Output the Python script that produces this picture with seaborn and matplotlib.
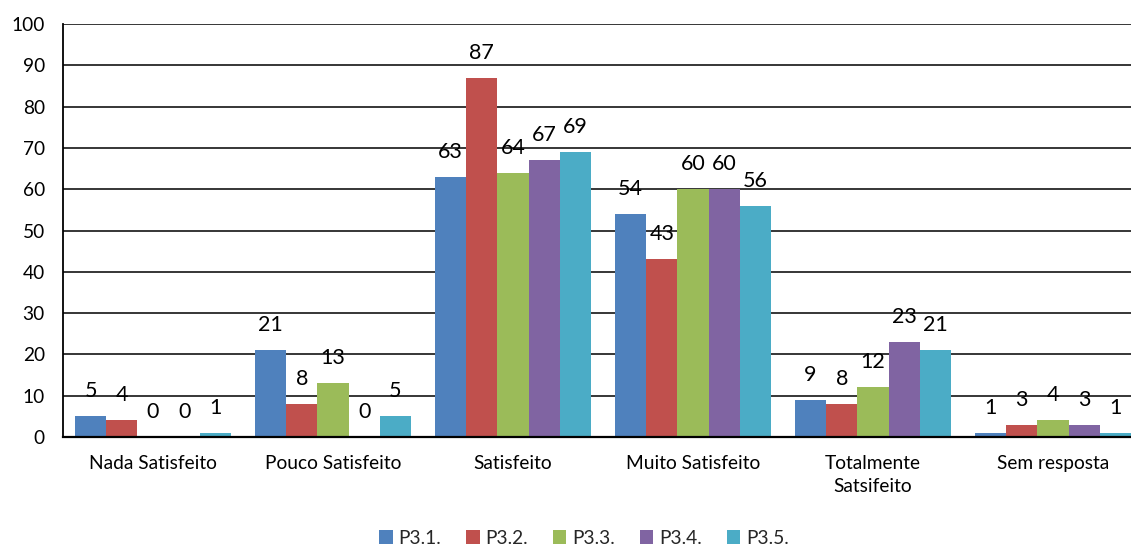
import matplotlib
matplotlib.use("Agg")
import matplotlib.pyplot as plt
import seaborn as sns
import pandas as pd

categories = ["Nada Satisfeito", "Pouco Satisfeito", "Satisfeito",
              "Muito Satisfeito", "Totalmente\nSatsifeito", "Sem resposta"]
series = ["P3.1.", "P3.2.", "P3.3.", "P3.4.", "P3.5."]
p31 = [5, 21, 63, 54, 9, 1]
p32 = [4, 8, 87, 43, 8, 3]
p33 = [0, 13, 64, 60, 12, 4]
p34 = [0, 0, 67, 60, 23, 3]
p35 = [1, 5, 69, 56, 21, 1]
colors = ["#4F81BD", "#C0504D", "#9BBB59", "#8064A2", "#4BACC6"]

values = [p31, p32, p33, p34, p35]
rows = []
for name, vals in zip(series, values):
    for cat, v in zip(categories, vals):
        rows.append({"categoria": cat, "serie": name, "valor": v})
df = pd.DataFrame(rows)

sns.set_theme(style="white")
plt.rcParams["font.family"] = ["Lato", "DejaVu Sans"]

fig = plt.figure(figsize=(11.31, 5.48), dpi=100)
ax = fig.add_axes([63 / 1131, 111 / 548, 1080 / 1131, 413 / 548])

sns.barplot(data=df, x="categoria", y="valor", hue="serie", order=categories,
            hue_order=series, palette=colors, width=0.867, gap=0,
            saturation=1, edgecolor="none", linewidth=0, ax=ax, legend=True,
            errorbar=None)

# value labels above each bar
for cont in ax.containers:
    for bar in cont:
        h = bar.get_height()
        ax.annotate(f"{h:.0f}", (bar.get_x() + bar.get_width() / 2, h),
                    xytext=(0, 18), textcoords="offset points",
                    ha="center", va="center", fontsize=15.5, color="black",
                    zorder=5)

ax.set_ylim(0, 100)
ax.set_xlim(-0.5, 5.5)
ax.set_yticks(range(0, 101, 10))
ax.yaxis.grid(True, color="black", linewidth=1.1)
ax.set_axisbelow(True)
ax.set_xlabel("")
ax.set_ylabel("")
for s in ["top", "right"]:
    ax.spines[s].set_visible(False)
ax.spines["left"].set_color("black")
ax.spines["left"].set_linewidth(1.3)
ax.spines["bottom"].set_color("black")
ax.spines["bottom"].set_linewidth(1.6)
ax.tick_params(axis="y", length=0, pad=13, labelsize=13.8, labelcolor="black")
ax.tick_params(axis="x", length=0, pad=13, labelsize=13.8, labelcolor="black")
for lbl in ax.get_xticklabels():
    lbl.set_linespacing(1.45)

handles, labels = ax.get_legend_handles_labels()
ax.get_legend().remove()
fig.legend(handles, labels, loc="center", bbox_to_anchor=(584 / 1131, 10 / 548),
           ncol=5, frameon=False, fontsize=13.8, handlelength=0.7,
           handleheight=0.7, handletextpad=0.3, columnspacing=1.3)

fig.savefig("out.png", dpi=100)
